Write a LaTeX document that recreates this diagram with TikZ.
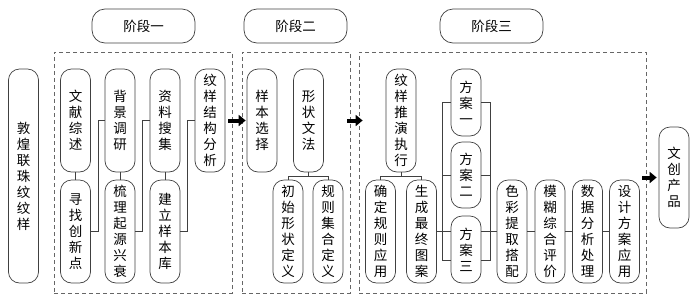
\documentclass[tikz,border=0pt]{standalone}
\usepackage{fontspec}
\newfontfamily\cjk{Noto Sans CJK SC}
\usetikzlibrary{arrows.meta,calc}
\tikzset{
  tallbox/.style={draw=black!75, line width=0.7pt, rounded corners=11pt, minimum width=30pt, minimum height=103pt, inner sep=0pt, align=center, font=\cjk\fontsize{13.5}{16}\selectfont},
  halfbox/.style={tallbox, minimum height=67pt},
  stagebox/.style={draw=black!75, line width=0.7pt, rounded corners=13pt, minimum width=103pt, minimum height=34pt, font=\cjk\fontsize{13.5}{15}\selectfont},
  phasebox/.style={draw=black!60, dash pattern=on 4pt off 3pt, line width=0.7pt, inner sep=0pt},
  link/.style={draw=black!75, line width=0.7pt},
  bigarrow/.style={line width=4pt, -{Triangle[length=7pt,width=11pt]}},
}
\begin{document}
\begin{tikzpicture}[x=1pt,y=-1pt]
	\useasboundingbox (0,0) rectangle (695,298);

	% stages
	\node[stagebox] (st1) at (143.5,26) {阶段一};
	\node[stagebox] (st2) at (295.5,26) {阶段二};
	\node[stagebox] (st3) at (491.5,26) {阶段三};
	\node[phasebox, minimum width=178pt, minimum height=241pt] (p1) at (143,172.5) {};
	\node[phasebox, minimum width=108pt, minimum height=241pt] (p2) at (296,172.5) {};
	\node[phasebox, minimum width=287pt, minimum height=241pt] (p3) at (502.5,172.5) {};

	\node[tallbox, minimum height=214pt] (dh) at (23.5,176) {敦\\煌\\联\\珠\\纹\\纹\\样};

	% stage 1
	\node[tallbox] (wx) at (75.5,120.5) {文\\献\\综\\述};
	\node[tallbox] (xz) at (75.5,231.5) {寻\\找\\创\\新\\点};
	\node[tallbox] (bj) at (120,120.5) {背\\景\\调\\研};
	\node[tallbox] (sl) at (120,231.5) {梳\\理\\起\\源\\兴\\衰};
	\node[tallbox] (zl) at (165,120.5) {资\\料\\搜\\集};
	\node[tallbox] (jl) at (165,231.5) {建\\立\\样\\本\\库};
	\node[tallbox] (jg) at (210,120.5) {纹\\样\\结\\构\\分\\析};

	\foreach \a/\b in {wx/xz,bj/sl,zl/jl} \draw[link] (\a.south) -- (\b.north);
	\foreach \a/\b in {xz/bj,sl/zl,jl/jg} \draw[link] (\a.east) -- ++(7,0) |- (\b.west);

	% stage 2
	\node[tallbox] (yb) at (262,120.5) {样\\本\\选\\择};
	\node[tallbox] (wf) at (308.5,120.5) {形\\状\\文\\法};
	\node[tallbox] (cs) at (288,231.5) {初\\始\\形\\状\\定\\义};
	\node[tallbox] (gz) at (328,231.5) {规\\则\\集\\合\\定\\义};

	\draw[link] (wf.south) -- ++(0,4) -| (cs.north);
	\draw[link] (wf.south) ++(0,4) -| (gz.north);

	% stage 3
	\node[tallbox] (ty) at (401,120.5) {纹\\样\\推\\演\\执\\行};
	\node[tallbox] (qd) at (380.5,231.5) {确\\定\\规\\则\\应\\用};
	\node[tallbox] (sc) at (421.5,231.5) {生\\成\\最\\终\\图\\案};
	\node[halfbox] (fa1) at (466,102.5) {方\\案\\一};
	\node[halfbox, minimum height=66pt] (fa2) at (466,175) {方\\案\\二};
	\node[halfbox] (fa3) at (466,249.5) {方\\案\\三};
	\node[tallbox] (sq) at (512,231.5) {色\\彩\\提\\取\\搭\\配};
	\node[tallbox] (mh) at (550,231.5) {模\\糊\\综\\合\\评\\价};
	\node[tallbox] (sj) at (587.5,231.5) {数\\据\\分\\析\\处\\理};
	\node[tallbox] (yy) at (624.5,231.5) {设\\计\\方\\案\\应\\用};

	\draw[link] (ty.south) -- ++(0,4) -| (qd.north);
	\draw[link] (ty.south) ++(0,4) -| (sc.north);
	\draw[link] (fa1.west) -- ++(-8,0) |- ([yshift=-10.5pt]fa3.west);
	\draw[link] (fa2.west) -- ++(-8,0);
	\draw[link] (fa1.east) -- ++(9,0) |- ([yshift=-10.5pt]fa3.east);
	\draw[link] (fa2.east) -- ++(9,0);
	\draw[link] (sc.east) -- (sc.east -| fa3.west);
	\draw[link] (sq.west -| fa3.east) -- (sq.west);
	\foreach \a/\b in {sq/mh,mh/sj,sj/yy} \draw[link] (\a.east) -- (\b.west);

	\node[tallbox, minimum height=101pt] (wc) at (674,177.5) {文\\创\\产\\品};

	% arrows between phases
	\draw[bigarrow] ([xshift=-4pt]p1.east |- jg.west) -- ([xshift=4pt]p2.west |- jg.west);
	\draw[bigarrow] ([xshift=-3pt]p2.east |- jg.west) -- ([xshift=4pt]p3.west |- jg.west);
	\draw[bigarrow] ([xshift=-4pt]p3.east |- wc.west) -- ([xshift=-2pt]wc.west);
\end{tikzpicture}
\end{document}
